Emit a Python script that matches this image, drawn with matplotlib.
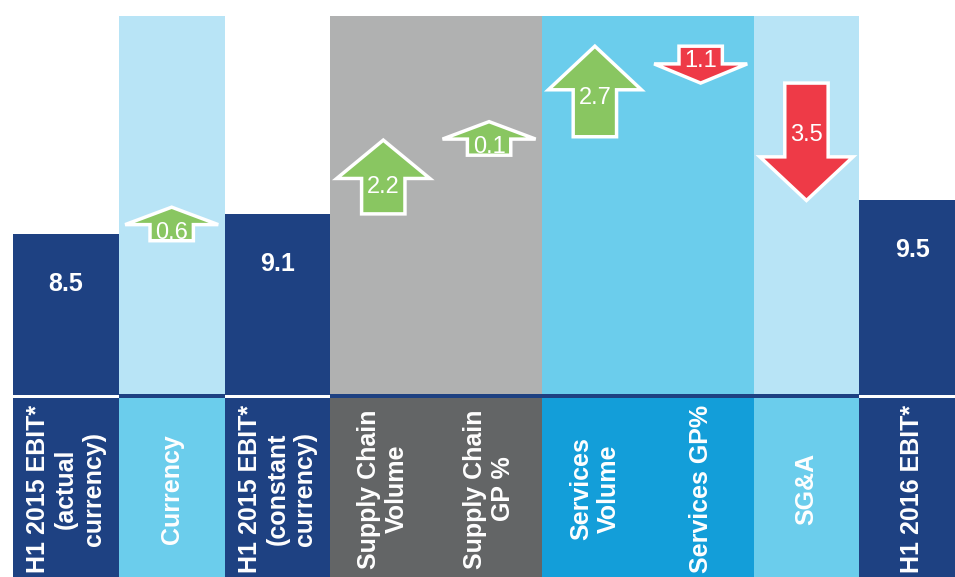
import numpy as np
import matplotlib.pyplot as plt
from matplotlib.patches import FancyArrow, Rectangle

plt.rcParams['font.family'] = ['Liberation Sans', 'DejaVu Sans']

# --- data (EBIT bridge, H1 2015 -> H1 2016) ---
labels = ["H1 2015 EBIT*\n(actual\ncurrency)", "Currency",
          "H1 2015 EBIT*\n(constant\ncurrency)", "Supply Chain\nVolume",
          "Supply Chain\nGP %", "Services\nVolume", "Services GP%", "SG&A",
          "H1 2016 EBIT*"]
kinds = ['total', 'delta', 'total', 'delta', 'delta', 'delta', 'delta', 'delta', 'total']
values = [8.5, 0.6, 9.1, 2.2, 0.1, 2.7, -1.1, -3.5, 9.5]

NAVY = '#1E4182'
LIGHT = '#B8E4F6'
CYAN = '#6BCDEC'
GREY = '#B0B1B1'
DGREY = '#636566'
BLUE = '#139ED9'
GREEN = '#89C661'
RED = '#EE3A47'

panel_colors = [None, LIGHT, None, GREY, GREY, CYAN, CYAN, LIGHT, None]
label_colors = [NAVY, CYAN, NAVY, DGREY, DGREY, BLUE, BLUE, CYAN, NAVY]

W, H = 955, 577
fig = plt.figure(figsize=(W / 100, H / 100), dpi=100)


def rect_px(x0, y0, x1, y1):
    # pixel box (top-left origin) -> figure fraction rect
    return [x0 / W, 1 - y1 / H, (x1 - x0) / W, (y1 - y0) / H]


ax = fig.add_axes(rect_px(13, 16, 955, 395))
lab = fig.add_axes(rect_px(13, 394, 955, 577))
XLIM = (-0.5, 8.404)


def runs(colors):
    # group consecutive columns of the same colour (avoids seams)
    out, start = [], 0
    for i in range(1, len(colors) + 1):
        if i == len(colors) or colors[i] != colors[start]:
            out.append((start, i, colors[start]))
            start = i
    return out


# background panels behind the deltas
for a, b, c in runs(panel_colors):
    if c:
        ax.axvspan(a - 0.5, b - 0.5, color=c, lw=0, zorder=0)

# total bars
xt = [i for i, k in enumerate(kinds) if k == 'total']
vt = [values[i] for i in xt]
ax.bar(xt, vt, width=1.0, color=NAVY, lw=0, zorder=1)
for x, v in zip(xt, vt):
    ax.annotate(f'{v:.1f}', (x, v), xytext=(0, -36), textcoords='offset points',
                ha='center', va='center', color='white', fontsize=18, fontweight='bold')

# delta arrows
level = values[0]
for i, (k, d) in enumerate(zip(kinds, values)):
    if k == 'total':
        level = d
        continue
    start, end = level, level + d
    level = end
    sign = 1 if d > 0 else -1
    L = max(abs(d), 1.0)
    mid = (start + end) / 2
    tail = mid - sign * L / 2
    hl = min(0.52 * L, 1.3)
    ax.add_patch(FancyArrow(i, tail, 0, sign * L, width=0.41, head_width=0.88,
                            head_length=hl, length_includes_head=True,
                            fc=GREEN if d > 0 else RED, ec='white', lw=2.5,
                            joinstyle='miter', zorder=3))
    base = tail + sign * (L - hl)
    if d > 0:
        ty = base - 0.25
    else:
        ty = tail - max(0.7 * (L - hl), 0.45)
    ax.text(i, ty, f'{abs(d):.1f}', ha='center', va='center', color='white',
            fontsize=17, zorder=4)

ax.set_xlim(*XLIM)
ax.set_ylim(3.7, 15.0)
ax.axis('off')

# category label strip (pixel y units)
lab.set_xlim(*XLIM)
lab.set_ylim(577, 394)
for a, b, c in runs(label_colors):
    lab.add_patch(Rectangle((a - 0.5, 398), b - a, 577 - 398, color=c, lw=0))
lab.axhspan(394, 398, color=NAVY, lw=0)
for i in xt:
    lab.add_patch(Rectangle((i - 0.5, 395), 1, 2.5, color='white', lw=0))
for i, t in enumerate(labels):
    lab.text(i, 489, t, rotation=90, ha='center', va='center', multialignment='center',
             color='white', fontsize=18, fontweight='bold')
lab.axis('off')

fig.savefig('out.png', dpi=100)
